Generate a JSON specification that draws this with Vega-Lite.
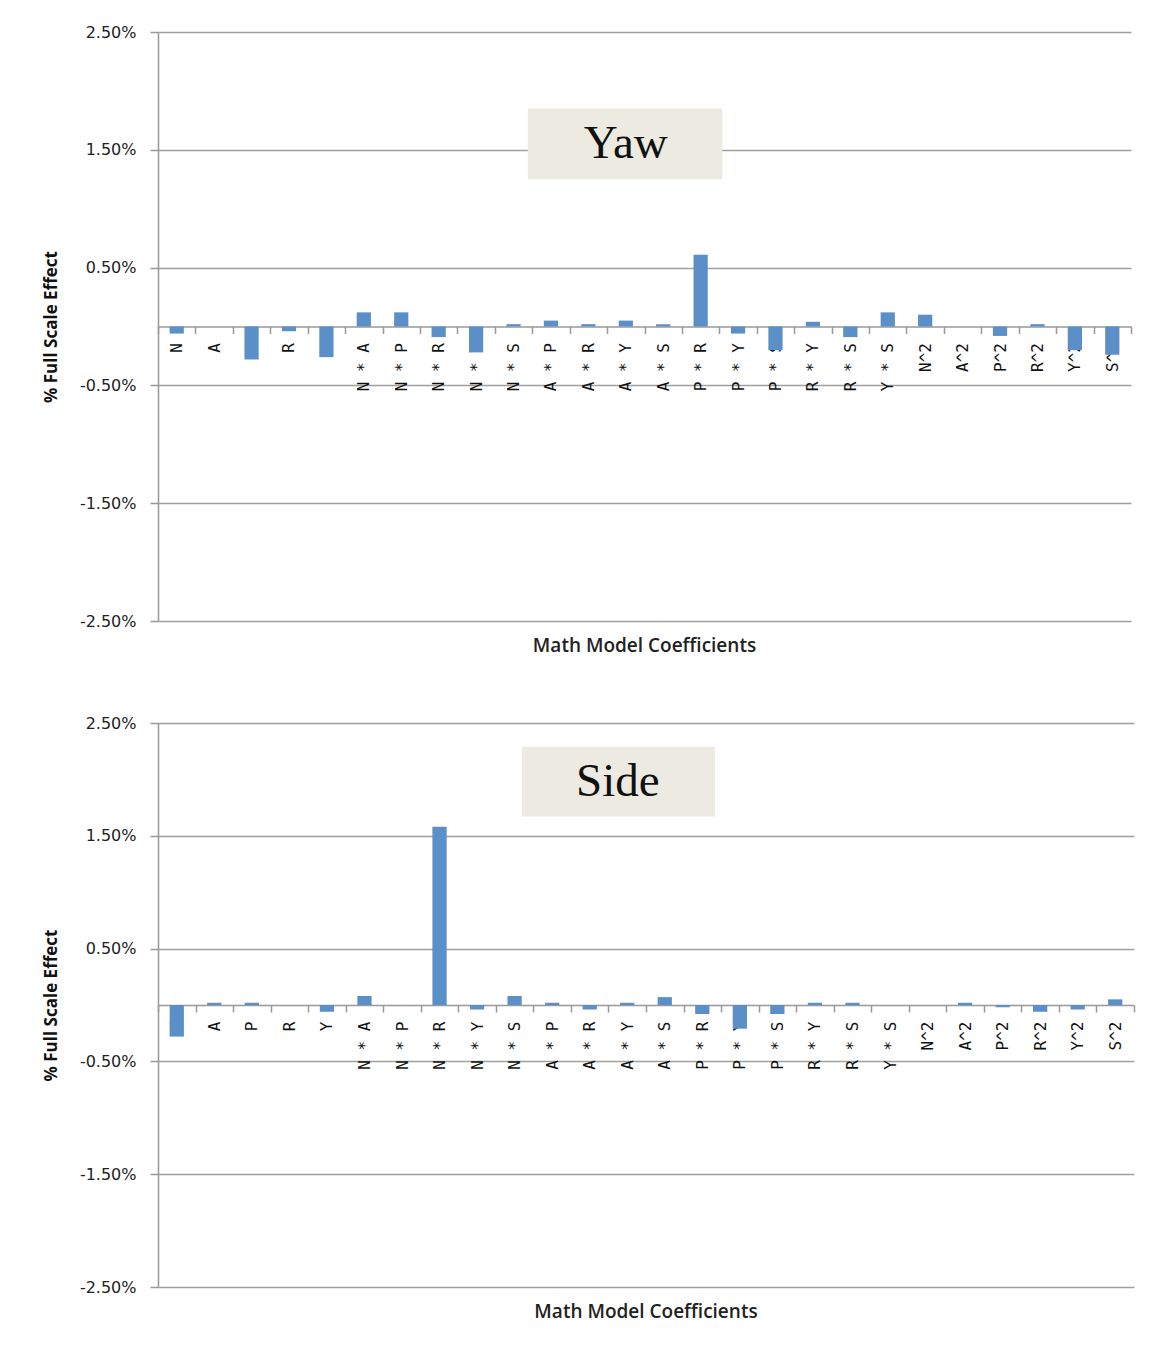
{
  "$schema": "https://vega.github.io/schema/vega-lite/v6.json",
  "padding": {"left": 42, "top": 24, "right": 20, "bottom": 5},
  "spacing": 59,
  "datasets": {
    "yaw": [
      {"coef": "N", "effect": -0.06},
      {"coef": "A", "effect": 0.0},
      {"coef": "P", "effect": -0.28},
      {"coef": "R", "effect": -0.04},
      {"coef": "S", "effect": -0.26},
      {"coef": "N * A", "effect": 0.12},
      {"coef": "N * P", "effect": 0.12},
      {"coef": "N * R", "effect": -0.09},
      {"coef": "N * Y", "effect": -0.22},
      {"coef": "N * S", "effect": 0.02},
      {"coef": "A * P", "effect": 0.05},
      {"coef": "A * R", "effect": 0.02},
      {"coef": "A * Y", "effect": 0.05},
      {"coef": "A * S", "effect": 0.02},
      {"coef": "P * R", "effect": 0.61},
      {"coef": "P * Y", "effect": -0.06},
      {"coef": "P * S", "effect": -0.2},
      {"coef": "R * Y", "effect": 0.04},
      {"coef": "R * S", "effect": -0.09},
      {"coef": "Y * S", "effect": 0.12},
      {"coef": "N^2", "effect": 0.1},
      {"coef": "A^2", "effect": 0.0},
      {"coef": "P^2", "effect": -0.08},
      {"coef": "R^2", "effect": 0.02},
      {"coef": "Y^2", "effect": -0.2},
      {"coef": "S^2", "effect": -0.24}
    ],
    "side": [
      {"coef": "N", "effect": -0.28},
      {"coef": "A", "effect": 0.02},
      {"coef": "P", "effect": 0.02},
      {"coef": "R", "effect": 0.0},
      {"coef": "Y", "effect": -0.06},
      {"coef": "N * A", "effect": 0.08},
      {"coef": "N * P", "effect": 0.0},
      {"coef": "N * R", "effect": 1.58},
      {"coef": "N * Y", "effect": -0.04},
      {"coef": "N * S", "effect": 0.08},
      {"coef": "A * P", "effect": 0.02},
      {"coef": "A * R", "effect": -0.04},
      {"coef": "A * Y", "effect": 0.02},
      {"coef": "A * S", "effect": 0.07},
      {"coef": "P * R", "effect": -0.08},
      {"coef": "P * Y", "effect": -0.21},
      {"coef": "P * S", "effect": -0.08},
      {"coef": "R * Y", "effect": 0.02},
      {"coef": "R * S", "effect": 0.02},
      {"coef": "Y * S", "effect": 0.0},
      {"coef": "N^2", "effect": 0.0},
      {"coef": "A^2", "effect": 0.02},
      {"coef": "P^2", "effect": -0.02},
      {"coef": "R^2", "effect": -0.06},
      {"coef": "Y^2", "effect": -0.04},
      {"coef": "S^2", "effect": 0.05}
    ],
    "yawTitle": [{"label": "Yaw"}],
    "sideTitle": [{"label": "Side"}]
  },
  "vconcat": [
    {
      "width": 973,
      "height": 589,
      "title": {"text": "Math Model Coefficients", "orient": "bottom", "frame": "group", "anchor": "middle", "offset": 8, "fontSize": 19, "font": "Open Sans", "fontWeight": 600, "color": "#222222"},
      "layer": [
        {
          "data": {"name": "yaw"},
          "mark": {"type": "bar", "width": {"band": 0.38}, "color": "#5B8FC8"},
          "encoding": {
            "x": {
              "field": "coef", "type": "nominal", "sort": null,
              "scale": {"domain": ["N","A","P","R","S","N * A","N * P","N * R","N * Y","N * S","A * P","A * R","A * Y","A * S","P * R","P * Y","P * S","R * Y","R * S","Y * S","N^2","A^2","P^2","R^2","Y^2","S^2"], "paddingInner": 0, "paddingOuter": 0},
              "axis": {"title": null, "orient": "bottom", "offset": -294.5, "labelAngle": -90, "labelAlign": "right", "labelBaseline": "middle", "labelPadding": 9, "labelFont": "DejaVu Sans Mono", "labelFontSize": 16, "labelColor": "#111111", "tickBand": "extent", "tickSize": 7, "tickColor": "#999999", "tickWidth": 1.5, "domainColor": "#999999", "domainWidth": 1.5, "grid": false}
            },
            "y": {
              "field": "effect", "type": "quantitative",
              "scale": {"domain": [-2.5, 2.5], "nice": false, "zero": false},
              "axis": {"title": "% Full Scale Effect", "values": [-2.5, -1.5, -0.5, 0.5, 1.5, 2.5], "labelExpr": "(datum.value < 0 ? '-' : '') + format(abs(datum.value), '.2f') + '%'", "labelFont": "DejaVu Sans", "labelFontSize": 16, "labelColor": "#222222", "labelPadding": 14, "tickSize": 8, "tickColor": "#999999", "tickWidth": 1.5, "domainColor": "#999999", "domainWidth": 1.5, "grid": true, "gridColor": "#a0a0a0", "gridWidth": 1.5, "titleFont": "Open Sans", "titleFontSize": 17, "titleFontWeight": "bold", "titleColor": "#111111", "titlePadding": 19}
            }
          }
        },
        {
          "data": {"name": "yawTitle"},
          "mark": {"type": "rect", "color": "#ECEAE1"},
          "encoding": {
            "x": {"datum": "N * S", "bandPosition": 0.88, "title": null},
            "x2": {"datum": "P * Y", "bandPosition": 0.08},
            "y": {"datum": 1.85, "title": null},
            "y2": {"datum": 1.25}
          }
        },
        {
          "data": {"name": "yawTitle"},
          "mark": {"type": "text", "font": "Liberation Serif", "fontSize": 47, "color": "#111111", "baseline": "middle", "align": "center"},
          "encoding": {
            "x": {"datum": "A * Y", "title": null},
            "y": {"datum": 1.55, "title": null},
            "text": {"field": "label"}
          }
        }
      ]
    },
    {
      "width": 976,
      "height": 564,
      "title": {"text": "Math Model Coefficients", "orient": "bottom", "frame": "group", "anchor": "middle", "offset": 8, "fontSize": 19, "font": "Open Sans", "fontWeight": 600, "color": "#222222"},
      "layer": [
        {
          "data": {"name": "side"},
          "mark": {"type": "bar", "width": {"band": 0.38}, "color": "#5B8FC8"},
          "encoding": {
            "x": {
              "field": "coef", "type": "nominal", "sort": null,
              "scale": {"domain": ["N","A","P","R","Y","N * A","N * P","N * R","N * Y","N * S","A * P","A * R","A * Y","A * S","P * R","P * Y","P * S","R * Y","R * S","Y * S","N^2","A^2","P^2","R^2","Y^2","S^2"], "paddingInner": 0, "paddingOuter": 0},
              "axis": {"title": null, "orient": "bottom", "offset": -282, "labelAngle": -90, "labelAlign": "right", "labelBaseline": "middle", "labelPadding": 9, "labelFont": "DejaVu Sans Mono", "labelFontSize": 16, "labelColor": "#111111", "tickBand": "extent", "tickSize": 7, "tickColor": "#999999", "tickWidth": 1.5, "domainColor": "#999999", "domainWidth": 1.5, "grid": false}
            },
            "y": {
              "field": "effect", "type": "quantitative",
              "scale": {"domain": [-2.5, 2.5], "nice": false, "zero": false},
              "axis": {"title": "% Full Scale Effect", "values": [-2.5, -1.5, -0.5, 0.5, 1.5, 2.5], "labelExpr": "(datum.value < 0 ? '-' : '') + format(abs(datum.value), '.2f') + '%'", "labelFont": "DejaVu Sans", "labelFontSize": 16, "labelColor": "#222222", "labelPadding": 14, "tickSize": 8, "tickColor": "#999999", "tickWidth": 1.5, "domainColor": "#999999", "domainWidth": 1.5, "grid": true, "gridColor": "#a0a0a0", "gridWidth": 1.5, "titleFont": "Open Sans", "titleFontSize": 17, "titleFontWeight": "bold", "titleColor": "#111111", "titlePadding": 19}
            }
          }
        },
        {
          "data": {"name": "sideTitle"},
          "mark": {"type": "rect", "color": "#ECEAE1"},
          "encoding": {
            "x": {"datum": "N * S", "bandPosition": 0.7, "title": null},
            "x2": {"datum": "P * R", "bandPosition": 0.84},
            "y": {"datum": 2.29, "title": null},
            "y2": {"datum": 1.67}
          }
        },
        {
          "data": {"name": "sideTitle"},
          "mark": {"type": "text", "font": "Liberation Serif", "fontSize": 47, "color": "#111111", "baseline": "middle", "align": "center"},
          "encoding": {
            "x": {"datum": "A * Y", "bandPosition": 0.25, "title": null},
            "y": {"datum": 1.98, "title": null},
            "text": {"field": "label"}
          }
        }
      ]
    }
  ],
  "config": {
    "view": {"stroke": null},
    "background": "white"
  }
}
